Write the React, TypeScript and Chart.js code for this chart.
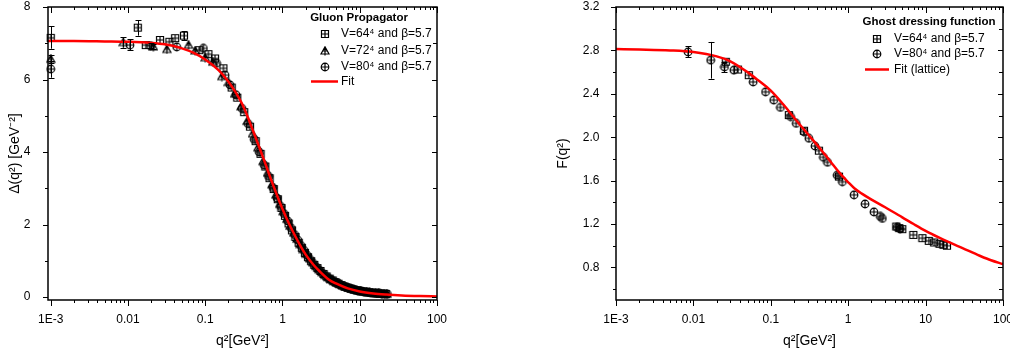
import React, { useEffect, useRef } from "react";
import { Chart, registerables } from "chart.js";
Chart.register(...registerables);

const FONT = "'Liberation Sans', Arial, Helvetica, sans-serif";
Chart.defaults.font.family = FONT;

// ---------- axis ticks ----------
const xTickValues = [0.001, 0.01, 0.1, 1, 10, 100];
const xTickLabels = ["1E-3", "0.01", "0.1", "1", "10", "100"];
const gluonYTicks = [0, 2, 4, 6, 8];
const gluonYLabels = ["0", "2", "4", "6", "8"];
const gluonYMinor = [1, 3, 5, 7];
const ghostYTicks = [0.8, 1.2, 1.6, 2.0, 2.4, 2.8, 3.2];
const ghostYLabels = ["0.8", "1.2", "1.6", "2.0", "2.4", "2.8", "3.2"];
const ghostYMinor = [0.6, 1.0, 1.4, 1.8, 2.2, 2.6, 3.0];

// ---------- gluon propagator ----------
const gluonFitX = [0.0009, 0.002, 0.005, 0.01, 0.02, 0.03, 0.05, 0.07, 0.1, 0.15, 0.2, 0.25, 0.3, 0.35, 0.4, 0.5, 0.6, 0.7, 0.8, 0.9, 1.0, 1.2, 1.4, 1.7, 2.0, 2.5, 3.0, 4.0, 5.0, 7.0, 10, 15, 22, 35, 60, 100];
const gluonFitY = [7.06, 7.06, 7.05, 7.04, 7.01, 6.97, 6.86, 6.74, 6.55, 6.25, 5.94, 5.63, 5.33, 5.0, 4.68, 4.14, 3.68, 3.28, 2.95, 2.67, 2.43, 2.05, 1.76, 1.42, 1.17, 0.9, 0.72, 0.48, 0.37, 0.24, 0.155, 0.1, 0.07, 0.045, 0.028, 0.018];

const g64X = [0.001, 0.0134, 0.017, 0.026, 0.0344, 0.0408, 0.0531, 0.084, 0.11, 0.134, 0.172, 0.22, 0.26, 0.32, 0.38, 0.45, 0.52, 0.6, 0.68, 0.77, 0.87, 0.97, 1.08, 1.2, 1.33, 1.47, 1.62, 1.78, 1.95, 2.14, 2.35, 2.58, 2.83, 3.1, 3.4, 3.72, 4.07, 4.45, 4.86, 5.3, 5.8, 6.35, 6.95, 7.6, 8.3, 9.1, 9.95, 10.9, 11.9, 13.0, 14.2, 15.5, 16.9, 18.4, 20.0, 21.7];
const g64Y = [7.15, 7.43, 6.95, 7.09, 7.04, 7.14, 7.21, 6.81, 6.7, 6.58, 6.31, 5.78, 5.5, 5.1, 4.7, 4.3, 3.95, 3.6, 3.28, 2.98, 2.7, 2.46, 2.24, 2.03, 1.84, 1.66, 1.5, 1.36, 1.22, 1.1, 0.99, 0.89, 0.8, 0.72, 0.64, 0.57, 0.51, 0.46, 0.41, 0.37, 0.33, 0.29, 0.26, 0.235, 0.21, 0.19, 0.17, 0.155, 0.14, 0.13, 0.12, 0.11, 0.1, 0.095, 0.09, 0.085];
const g64ErrX = [0.001, 0.0134, 0.0531];
const g64ErrLo = [6.85, 7.21, 7.09];
const g64ErrHi = [7.47, 7.64, 7.33];

const g72X = [0.001, 0.0087, 0.0213, 0.0319, 0.0608, 0.0741, 0.1, 0.125, 0.164, 0.2, 0.24, 0.29, 0.35, 0.41, 0.48, 0.56, 0.64, 0.73, 0.82, 0.92, 1.02, 1.14, 1.26, 1.4, 1.54, 1.7, 1.86, 2.04, 2.24, 2.46, 2.7, 2.96, 3.25, 3.56, 3.9, 4.26, 4.65, 5.08, 5.55, 6.06, 6.62, 7.23, 7.9, 8.63, 9.42, 10.3, 11.25, 12.3, 13.4, 14.6, 16.0, 17.5, 19.1, 20.8, 22.4];
const g72Y = [6.56, 7.02, 6.9, 6.83, 6.95, 6.79, 6.6, 6.48, 6.08, 5.92, 5.6, 5.25, 4.85, 4.5, 4.12, 3.74, 3.42, 3.1, 2.82, 2.56, 2.36, 2.15, 1.96, 1.77, 1.6, 1.45, 1.31, 1.18, 1.06, 0.95, 0.85, 0.76, 0.68, 0.6, 0.54, 0.48, 0.43, 0.39, 0.35, 0.31, 0.28, 0.25, 0.225, 0.2, 0.18, 0.165, 0.15, 0.138, 0.127, 0.117, 0.108, 0.1, 0.093, 0.087, 0.082];
const g72ErrX = [0.001, 0.0087, 0.0213];
const g72ErrLo = [6.45, 6.88, 6.83];
const g72ErrHi = [6.68, 7.16, 6.97];

const g80X = [0.001, 0.0106, 0.0196, 0.0428, 0.0947, 0.14, 0.181, 0.21, 0.25, 0.3, 0.36, 0.43, 0.5, 0.58, 0.66, 0.75, 0.85, 0.95, 1.05, 1.17, 1.3, 1.44, 1.58, 1.74, 1.9, 2.08, 2.28, 2.5, 2.74, 3.0, 3.28, 3.6, 3.95, 4.32, 4.72, 5.15, 5.62, 6.15, 6.72, 7.35, 8.05, 8.8, 9.6, 10.5, 11.5, 12.6, 13.8, 15.0, 16.4, 17.9, 19.5, 21.2, 22.8];
const g80Y = [6.29, 6.95, 6.93, 6.9, 6.86, 6.45, 6.12, 5.85, 5.58, 5.2, 4.78, 4.35, 4.0, 3.64, 3.33, 3.02, 2.73, 2.5, 2.3, 2.1, 1.9, 1.72, 1.57, 1.42, 1.29, 1.16, 1.04, 0.93, 0.83, 0.74, 0.66, 0.59, 0.52, 0.47, 0.42, 0.38, 0.34, 0.3, 0.27, 0.24, 0.215, 0.195, 0.178, 0.162, 0.148, 0.136, 0.125, 0.115, 0.107, 0.1, 0.093, 0.087, 0.082];
const g80ErrX = [0.001, 0.0106, 0.0196];
const g80ErrLo = [6.05, 6.81, 6.86];
const g80ErrHi = [6.52, 7.11, 7.0];

// ---------- ghost dressing function ----------
const ghostFitX = [0.001, 0.002, 0.005, 0.01, 0.02, 0.03, 0.05, 0.07, 0.1, 0.15, 0.2, 0.3, 0.4, 0.5, 0.6, 0.7, 0.8, 0.9, 1.0, 1.2, 1.5, 2.0, 3.0, 5.0, 7.0, 10, 15, 20, 30, 50, 70, 100];
const ghostFitY = [2.812, 2.808, 2.8, 2.785, 2.745, 2.7, 2.6, 2.52, 2.43, 2.29, 2.18, 2.03, 1.925, 1.84, 1.77, 1.71, 1.66, 1.62, 1.585, 1.53, 1.48, 1.425, 1.355, 1.262, 1.2, 1.137, 1.074, 1.033, 0.978, 0.908, 0.866, 0.831];

const h64X = [0.0262, 0.0376, 0.0519, 0.171, 0.268, 0.418, 0.76, 4.19, 4.57, 5.0, 6.95, 9.1, 11.0, 12.9, 15.1, 17.0, 18.9];
const h64Y = [2.695, 2.624, 2.572, 2.204, 2.06, 1.876, 1.637, 1.177, 1.162, 1.153, 1.1, 1.07, 1.045, 1.03, 1.018, 1.009, 1.0];

const h80X = [0.00853, 0.0167, 0.0252, 0.0333, 0.0592, 0.0855, 0.109, 0.133, 0.18, 0.213, 0.268, 0.31, 0.372, 0.478, 0.54, 0.72, 0.84, 1.19, 1.65, 2.15, 2.6, 2.76, 4.3, 4.7];
const h80Y = [2.786, 2.71, 2.648, 2.618, 2.51, 2.418, 2.342, 2.275, 2.19, 2.128, 2.05, 1.99, 1.919, 1.815, 1.769, 1.65, 1.59, 1.469, 1.385, 1.312, 1.27, 1.252, 1.17, 1.155];
const h80ErrX = [0.00853, 0.0167, 0.0252];
const h80ErrLo = [2.74, 2.54, 2.6];
const h80ErrHi = [2.84, 2.878, 2.69];

// ---------- helpers ----------
function makeMarker(kind: string): HTMLCanvasElement {
  const c = document.createElement("canvas");
  c.width = 10;
  c.height = 10;
  const g = c.getContext("2d")!;
  g.strokeStyle = "#000";
  g.lineWidth = 1.2;
  g.beginPath();
  if (kind === "square") {
    g.rect(1.5, 1.5, 7, 7);
    g.moveTo(5, 1.5); g.lineTo(5, 8.5);
    g.moveTo(1.5, 5); g.lineTo(8.5, 5);
  } else if (kind === "triangle") {
    g.moveTo(5, 0.8); g.lineTo(9, 8); g.lineTo(1, 8); g.closePath();
    g.moveTo(5, 0.8); g.lineTo(5, 9.5);
    g.moveTo(2.8, 5); g.lineTo(7.2, 5);
  } else {
    g.arc(5, 5, 3.8, 0, Math.PI * 2);
    g.moveTo(5, 1); g.lineTo(5, 9);
    g.moveTo(1, 5); g.lineTo(9, 5);
  }
  g.stroke();
  return c;
}

type Series = { x: number[]; y: number[]; marker: string; errX?: number[]; errLo?: number[]; errHi?: number[] };
type LegendRow = { marker?: string; line?: boolean; text: string; y: number };
type Spec = {
  xMin: number; xMax: number; yMin: number; yMax: number;
  yTicks: number[]; yLabels: string[]; yMinor: number[];
  yAxisWidth: number; padRight: number; padTop: number; yLabelPad: number;
  yTitle: string; yTitlePad: number; xTitle: string;
  fitX: number[]; fitY: number[]; series: Series[];
  legend: { title: string; titleX: number; titleY: number; markerX: number; lineX1: number; lineX2: number; textX: number; rows: LegendRow[] };
};

function zeroPad(s: any) {
  s.paddingTop = 0;
  s.paddingBottom = 0;
  s.paddingLeft = 0;
  s.paddingRight = 0;
}

function makeChart(canvas: HTMLCanvasElement, spec: Spec) {
  const imgs: Record<string, HTMLCanvasElement> = {
    square: makeMarker("square"),
    triangle: makeMarker("triangle"),
    circle: makeMarker("circle"),
  };
  const datasets: any[] = [
    {
      data: spec.fitX.map((x, i) => ({ x, y: spec.fitY[i] })),
      showLine: true,
      borderColor: "#ff0000",
      borderWidth: 2.5,
      pointRadius: 0,
      pointHoverRadius: 0,
      cubicInterpolationMode: "monotone",
      fill: false,
      order: 0,
    },
  ];
  spec.series.forEach((s) => {
    datasets.push({
      data: s.x.map((x, i) => ({ x, y: s.y[i] })),
      showLine: false,
      pointStyle: imgs[s.marker],
      pointRadius: 4,
      pointHoverRadius: 4,
      order: 1,
      clip: false,
    });
  });

  const errPlugin = {
    id: "errbars",
    afterDatasetsDraw(chart: any) {
      const ctx = chart.ctx;
      const xs = chart.scales.x;
      const ys = chart.scales.y;
      ctx.save();
      ctx.strokeStyle = "#000";
      ctx.lineWidth = 1;
      spec.series.forEach((s) => {
        if (!s.errX) return;
        s.errX.forEach((ex, i) => {
          const px = Math.round(xs.getPixelForValue(ex)) + 0.5;
          const lo = ys.getPixelForValue(s.errLo![i]);
          const hi = ys.getPixelForValue(s.errHi![i]);
          ctx.beginPath();
          ctx.moveTo(px, lo); ctx.lineTo(px, hi);
          ctx.moveTo(px - 3, Math.round(lo) + 0.5); ctx.lineTo(px + 3, Math.round(lo) + 0.5);
          ctx.moveTo(px - 3, Math.round(hi) + 0.5); ctx.lineTo(px + 3, Math.round(hi) + 0.5);
          ctx.stroke();
        });
      });
      ctx.restore();
    },
  };

  const framePlugin = {
    id: "frame",
    afterDraw(chart: any) {
      const ctx = chart.ctx;
      const a = chart.chartArea;
      const xs = chart.scales.x;
      const ys = chart.scales.y;
      ctx.save();
      ctx.strokeStyle = "#000";
      ctx.lineWidth = 1.5;
      ctx.strokeRect(a.left, a.top, a.right - a.left, a.bottom - a.top);
      ctx.lineWidth = 1;
      ctx.beginPath();
      const d0 = Math.floor(Math.log10(spec.xMin));
      const d1 = Math.ceil(Math.log10(spec.xMax));
      for (let d = d0; d <= d1; d++) {
        for (let m = 1; m <= 9; m++) {
          const v = m * Math.pow(10, d);
          if (v < spec.xMin * 0.9999 || v > spec.xMax * 1.0001) continue;
          const px = Math.round(xs.getPixelForValue(v)) + 0.5;
          const len = m === 1 ? 6 : 3;
          ctx.moveTo(px, a.bottom); ctx.lineTo(px, a.bottom + len);
          ctx.moveTo(px, a.top); ctx.lineTo(px, a.top + len);
        }
      }
      spec.yTicks.forEach((v) => {
        const py = Math.round(ys.getPixelForValue(v)) + 0.5;
        ctx.moveTo(a.left, py); ctx.lineTo(a.left - 5, py);
        ctx.moveTo(a.right, py); ctx.lineTo(a.right - 5, py);
      });
      spec.yMinor.forEach((v) => {
        const py = Math.round(ys.getPixelForValue(v)) + 0.5;
        if (py < a.top || py > a.bottom) return;
        ctx.moveTo(a.left, py); ctx.lineTo(a.left - 3, py);
        ctx.moveTo(a.right, py); ctx.lineTo(a.right - 4, py);
      });
      ctx.stroke();

      const L = spec.legend;
      ctx.fillStyle = "#000";
      ctx.textBaseline = "middle";
      ctx.textAlign = "center";
      ctx.font = `bold 11.5px ${FONT}`;
      ctx.fillText(L.title, L.titleX, L.titleY);
      ctx.textAlign = "left";
      ctx.font = `12px ${FONT}`;
      L.rows.forEach((r) => {
        if (r.marker) {
          ctx.drawImage(imgs[r.marker], Math.round(L.markerX) - 5, Math.round(r.y) - 5);
        } else if (r.line) {
          ctx.save();
          ctx.strokeStyle = "#ff0000";
          ctx.lineWidth = 2.5;
          ctx.beginPath();
          ctx.moveTo(L.lineX1, r.y); ctx.lineTo(L.lineX2, r.y);
          ctx.stroke();
          ctx.restore();
        }
        ctx.fillText(r.text, L.textX, r.y);
      });
      ctx.restore();
    },
  };

  return new Chart(canvas, {
    type: "scatter",
    data: { datasets },
    options: {
      responsive: false,
      maintainAspectRatio: false,
      animation: false,
      devicePixelRatio: 1,
      events: [],
      layout: { padding: { left: 0, right: spec.padRight, top: spec.padTop, bottom: 0 } },
      plugins: { legend: { display: false }, tooltip: { enabled: false } },
      scales: {
        x: {
          type: "logarithmic",
          position: "bottom",
          min: spec.xMin,
          max: spec.xMax,
          bounds: "data",
          grid: { display: false },
          border: { display: false },
          ticks: {
            autoSkip: false,
            maxRotation: 0,
            minRotation: 0,
            padding: 4,
            color: "#000",
            font: { family: FONT, size: 12 },
            callback: (_v: any, i: number) => xTickLabels[i],
          },
          afterBuildTicks: (s: any) => {
            s.ticks = xTickValues.filter((v) => v >= spec.xMin * 0.999 && v <= spec.xMax * 1.001).map((v) => ({ value: v }));
          },
          afterFit: (s: any) => {
            s.height = 56;
            zeroPad(s);
          },
          title: {
            display: true,
            text: spec.xTitle,
            color: "#000",
            font: { family: FONT, size: 14 },
            padding: { top: 0, bottom: 6 },
          },
        },
        y: {
          type: "linear",
          position: "left",
          min: spec.yMin,
          max: spec.yMax,
          bounds: "data",
          grid: { display: false },
          border: { display: false },
          ticks: {
            autoSkip: false,
            padding: spec.yLabelPad,
            color: "#000",
            font: { family: FONT, size: 12 },
            callback: (_v: any, i: number) => spec.yLabels[i],
          },
          afterBuildTicks: (s: any) => {
            s.ticks = spec.yTicks.map((v) => ({ value: v }));
          },
          afterFit: (s: any) => {
            s.width = spec.yAxisWidth;
            zeroPad(s);
          },
          title: {
            display: true,
            text: spec.yTitle,
            color: "#000",
            font: { family: FONT, size: 14 },
            padding: { top: spec.yTitlePad, bottom: 0 },
          },
        },
      },
    } as any,
    plugins: [errPlugin, framePlugin],
  });
}

const gluonSpec: Spec = {
  xMin: 0.000923, xMax: 100, yMin: -0.08, yMax: 8,
  yTicks: gluonYTicks, yLabels: gluonYLabels, yMinor: gluonYMinor,
  yAxisWidth: 48, padRight: 68, padTop: 7, yLabelPad: 9.5,
  yTitle: "Δ(q²) [GeV⁻²]", yTitlePad: 7, xTitle: "q²[GeV²]",
  fitX: gluonFitX, fitY: gluonFitY,
  series: [
    { x: g64X, y: g64Y, marker: "square", errX: g64ErrX, errLo: g64ErrLo, errHi: g64ErrHi },
    { x: g72X, y: g72Y, marker: "triangle", errX: g72ErrX, errLo: g72ErrLo, errHi: g72ErrHi },
    { x: g80X, y: g80Y, marker: "circle", errX: g80ErrX, errLo: g80ErrLo, errHi: g80ErrHi },
  ],
  legend: {
    title: "Gluon Propagator", titleX: 359, titleY: 17.5,
    markerX: 325, lineX1: 311, lineX2: 338, textX: 341,
    rows: [
      { marker: "square", text: "V=64⁴ and β=5.7", y: 33.5 },
      { marker: "triangle", text: "V=72⁴ and β=5.7", y: 50.5 },
      { marker: "circle", text: "V=80⁴ and β=5.7", y: 67 },
      { line: true, text: "Fit", y: 81.5 },
    ],
  },
};

const ghostSpec: Spec = {
  xMin: 0.001, xMax: 100, yMin: 0.5, yMax: 3.2,
  yTicks: ghostYTicks, yLabels: ghostYLabels, yMinor: ghostYMinor,
  yAxisWidth: 111, padRight: 7, padTop: 7, yLabelPad: 8.5,
  yTitle: "F(q²)", yTitlePad: 50, xTitle: "q²[GeV²]",
  fitX: ghostFitX, fitY: ghostFitY,
  series: [
    { x: h64X, y: h64Y, marker: "square" },
    { x: h80X, y: h80Y, marker: "circle", errX: h80ErrX, errLo: h80ErrLo, errHi: h80ErrHi },
  ],
  legend: {
    title: "Ghost dressing function", titleX: 424, titleY: 21.5,
    markerX: 372, lineX1: 360, lineX2: 384, textX: 389,
    rows: [
      { marker: "square", text: "V=64⁴ and β=5.7", y: 38.5 },
      { marker: "circle", text: "V=80⁴ and β=5.7", y: 54 },
      { line: true, text: "Fit (lattice)", y: 69.5 },
    ],
  },
};

function ChartCanvas({ spec, left }: { spec: Spec; left: number }) {
  const ref = useRef<HTMLCanvasElement>(null);
  useEffect(() => {
    const chart = makeChart(ref.current!, spec);
    return () => chart.destroy();
  }, []);
  return (
    <canvas
      ref={ref}
      width={505}
      height={356}
      style={{ position: "absolute", left, top: 0, width: 505, height: 356 }}
    />
  );
}

export default function App() {
  return (
    <div style={{ position: "absolute", left: 0, top: 0, width: 1010, height: 356, background: "#fff", overflow: "hidden" }}>
      <ChartCanvas spec={gluonSpec} left={0} />
      <ChartCanvas spec={ghostSpec} left={505} />
    </div>
  );
}
